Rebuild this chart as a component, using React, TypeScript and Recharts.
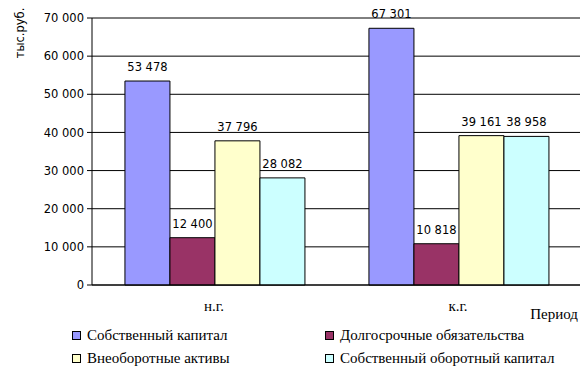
import React from 'react';
import { BarChart, Bar, XAxis, YAxis, CartesianGrid, LabelList } from 'recharts';

// Period labels and values (thousand rubles)
const categories = ['н.г.', 'к.г.'];
const ownCapital = [53478, 67301];
const longTermDebt = [12400, 10818];
const nonCurrentAssets = [37796, 39161];
const workingCapital = [28082, 38958];

const seriesNames = [
  'Собственный капитал',
  'Долгосрочные обязательства',
  'Внеоборотные активы',
  'Собственный оборотный капитал',
];
const seriesKeys = ['own', 'debt', 'assets', 'working'];
const seriesColors = ['#9999FF', '#993366', '#FFFFCC', '#CCFFFF'];
const yTicks = [0, 10000, 20000, 30000, 40000, 50000, 60000, 70000];

const data = categories.map((name, i) => ({
  name,
  own: ownCapital[i],
  debt: longTermDebt[i],
  assets: nonCurrentAssets[i],
  working: workingCapital[i],
}));

const fmt = (v: number) => String(v).replace(/\B(?=(\d{3})+(?!\d))/g, ' ');

const SANS = '"DejaVu Sans", Verdana, sans-serif';
const SERIF = '"Liberation Serif", "Times New Roman", serif';

const CategoryTick = (props: any) => {
  const { x, y, payload } = props;
  return (
    <text x={x} y={y + 18} textAnchor="middle" fontFamily={SERIF} fontSize={15} fill="#000">
      {payload.value}
    </text>
  );
};

export default function App() {
  return (
    <div style={{ position: 'absolute', left: 0, top: 0, width: 585, height: 376, background: '#fff' }}>
      <BarChart
        width={585}
        height={376}
        data={data}
        margin={{ top: 18, right: 5, left: 0, bottom: 61 }}
        barCategoryGap="13.5%"
        barGap={0}
      >
        <CartesianGrid vertical={false} stroke="#000" strokeOpacity={1} />
        <XAxis
          xAxisId="edge"
          type="number"
          domain={[0, 2]}
          ticks={[0, 1]}
          tick={false}
          tickSize={5}
          tickLine={{ stroke: '#000' }}
          axisLine={false}
          height={1}
        />
        <XAxis
          dataKey="name"
          tickLine={false}
          axisLine={{ stroke: '#000' }}
          tick={<CategoryTick />}
          height={29}
        />
        <YAxis
          domain={[0, 70000]}
          ticks={yTicks}
          width={92}
          tickSize={5}
          tickMargin={3}
          tickLine={{ stroke: '#000' }}
          axisLine={{ stroke: '#000' }}
          tickFormatter={fmt}
          tick={{ fill: '#000', fontFamily: SANS, fontSize: 11.5 }}
          label={{
            value: 'тыс.руб.',
            angle: -90,
            position: 'insideTopLeft',
            content: () => (
              <text x={20} y={33} transform="rotate(-90 20 33)" textAnchor="middle" dominantBaseline="central" fontFamily={SANS} fontSize={11.5} fill="#000">
                тыс.руб.
              </text>
            ),
          }}
        />
        {seriesKeys.map((k, i) => (
          <Bar key={k} dataKey={k} name={seriesNames[i]} fill={seriesColors[i]} stroke="#000" strokeWidth={1} isAnimationActive={false}>
            <LabelList dataKey={k} position="top" offset={10} formatter={(v: any) => fmt(v)} fill="#000" fontFamily={SANS} fontSize={11.5} />
          </Bar>
        ))}
      </BarChart>
      <div style={{ position: 'absolute', right: 7, top: 306, fontFamily: SERIF, fontSize: 15 }}>Период</div>
      <div style={{ position: 'absolute', left: 72, top: 326, width: 510, display: 'grid', gridTemplateColumns: '253px auto', rowGap: 5, fontFamily: SERIF, fontSize: 15 }}>
        {seriesNames.map((n, i) => (
          <div key={n} style={{ display: 'flex', alignItems: 'center', height: 18, whiteSpace: 'nowrap' }}>
            <span style={{ width: 7, height: 7, border: '1px solid #000', background: seriesColors[i], marginRight: 6, display: 'inline-block' }} />
            {n}
          </div>
        ))}
      </div>
    </div>
  );
}
